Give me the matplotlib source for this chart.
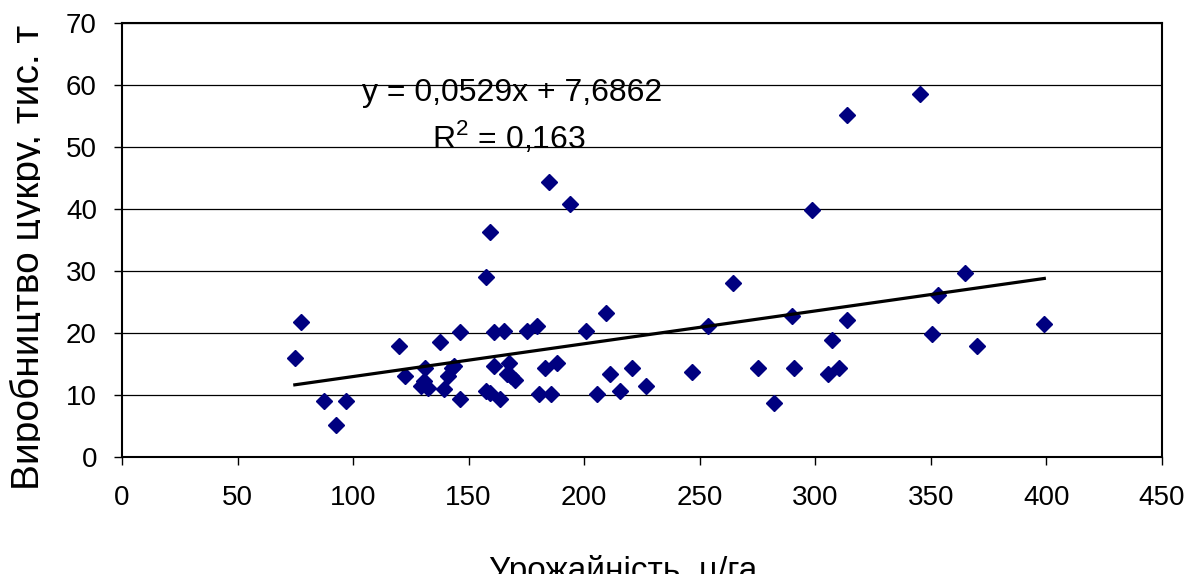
import numpy as np
import matplotlib
matplotlib.use('Agg')
import matplotlib.pyplot as plt
from matplotlib.transforms import Bbox, TransformedBbox

plt.rcParams['font.family'] = ['Liberation Sans', 'DejaVu Sans']
plt.rcParams['mathtext.fontset'] = 'custom'
plt.rcParams['mathtext.rm'] = 'Liberation Sans'

# урожайність, ц/га
yield_x = [74.8, 77.4, 87.5, 92.7, 96.8, 119.9, 122.5, 129.3, 130.6, 131.1,
           132.3, 137.6, 139.5, 141.2, 142.8, 143.8, 146.3, 146.3, 157.5, 157.5,
           159.1, 159.4, 161.0, 161.0, 163.4, 165.3, 167.3, 166.8, 168.3, 170.2,
           175.2, 179.6, 180.4, 182.9, 184.7, 185.6, 188.1, 194.0, 201.0, 205.4,
           209.5, 211.0, 215.3, 220.8, 226.9, 246.6, 253.6, 264.4, 275.4, 282.3,
           290.0, 290.9, 298.5, 305.4, 307.1, 310.4, 313.8, 313.8, 345.4, 350.4,
           353.0, 364.9, 370.1, 399.1]
# виробництво цукру, тис. т
sugar_y = [15.9, 21.7, 9.05, 5.2, 9.0, 17.9, 13.1, 11.5, 12.2, 14.4,
           11.1, 18.5, 10.9, 13.1, 14.3, 14.7, 20.1, 9.3, 29.0, 10.7,
           36.3, 10.3, 20.1, 14.6, 9.3, 20.4, 15.1, 13.4, 13.1, 12.4,
           20.4, 21.2, 10.2, 14.4, 44.3, 10.2, 15.1, 40.8, 20.4, 10.2,
           23.3, 13.4, 10.6, 14.4, 11.5, 13.7, 21.2, 28.1, 14.4, 8.7,
           22.7, 14.4, 39.9, 13.4, 18.8, 14.4, 55.1, 22.1, 58.6, 19.8,
           26.2, 29.7, 17.9, 21.4]

slope = 0.0529
intercept = 7.6862

fig = plt.figure(figsize=(11.91, 5.74), dpi=100)
ax = fig.add_axes([0.1024, 0.2038, 0.8732, 0.7562])

ax.set_xlim(0, 450)
ax.set_ylim(0, 70)
ax.set_xticks(np.arange(0, 451, 50))
ax.set_yticks(np.arange(0, 71, 10))
ax.yaxis.grid(True, color='black', linewidth=0.9)
ax.set_axisbelow(True)

ax.plot(yield_x, sugar_y, linestyle='none', marker='D', markersize=8,
        color='#000080', zorder=3)

# лінія тренду
xt = np.array([min(yield_x), max(yield_x)])
ax.plot(xt, slope * xt + intercept, color='black', linewidth=2.3, zorder=4)

ax.text(168.8, 57.4, 'y = 0,0529x + 7,6862', ha='center', va='baseline', fontsize=23)
ax.text(167.3, 49.9, 'R$^2$ = 0,163', ha='center', va='baseline', fontsize=23)

for s in ax.spines.values():
    s.set_linewidth(1.5)
ax.tick_params(axis='both', direction='out', length=6, width=1, labelsize=20)
ax.tick_params(axis='x', pad=14)
ax.tick_params(axis='y', pad=12)

# підпис осі Y обрізаний праворуч, як в оригіналі
ylab = fig.text(0.0327, 0.552, 'Виробництво цукру, тис. т', rotation=90,
                rotation_mode='anchor', ha='center', va='baseline', fontsize=28)
ylab.set_clip_box(TransformedBbox(Bbox([[0, 0], [0.0333, 1]]), fig.transFigure))
ylab.set_clip_on(True)

fig.text(0.5235, 0.033, 'Урожайність, ц/га', ha='center', va='top', fontsize=24)

fig.savefig('out.png', dpi=100)
